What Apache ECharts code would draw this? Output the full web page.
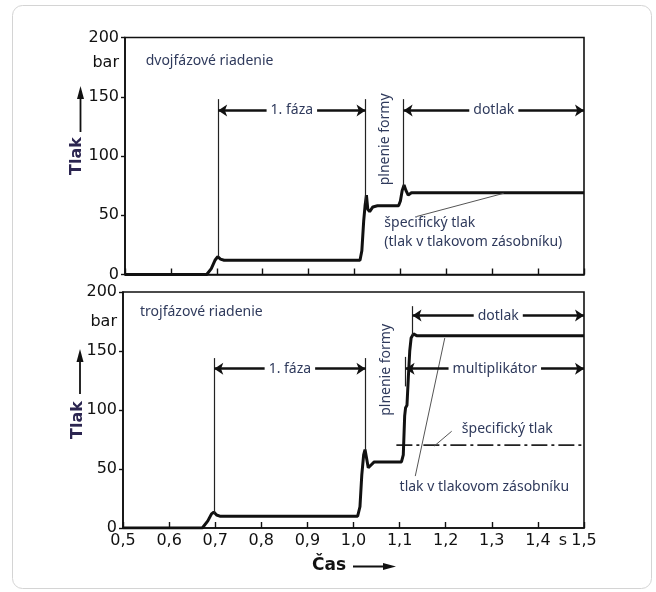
<!DOCTYPE html>
<html><head><meta charset="utf-8">
<script src="https://cdn.jsdelivr.net/npm/echarts@6/dist/echarts.min.js"></script>
<style>html,body{margin:0;padding:0;background:#fff}#c{width:656px;height:592px}</style>
</head><body><div id="c"></div>
<script>
// ---- data (time in s, pressure in bar) ----
const topTime     = [0.5, 0.678, 0.688, 0.696, 0.702, 0.708, 0.716, 1.012, 1.016, 1.02, 1.023, 1.026, 1.029, 1.033, 1.04, 1.05, 1.096, 1.1, 1.104, 1.108, 1.112, 1.117, 1.124, 1.135, 1.5];
const topPressure = [0,   0,     5,     12,    15,    13,    12,    12,    20,    45,   58,    67,    55,    53,    57,   58,   58,    62,  71,    75.5,  71,    67,    69,    69,    69];
const botTime     = [0.5, 0.672, 0.684, 0.692, 0.697, 0.703, 0.71, 1.009, 1.014, 1.018, 1.022, 1.025, 1.028, 1.032, 1.037, 1.045, 1.104, 1.108, 1.111, 1.113, 1.116, 1.119, 1.122, 1.125, 1.13, 1.137, 1.5];
const botPressure = [0,   0,     6,     12,    13.5,  11,    10,   10,    18,    45,    62,    66.5,  60,    51,    53,    56,    56,    62,    95,    102,   104,   128,   150,   161,   164.5, 163,   163];
const specTime     = [1.093, 1.5];
const specPressure = [70.3, 70.3];
const xMin = 0.5, xMax = 1.5, xStep = 0.1;
const yMin = 0, yMax = 200, yStep = 50;

const TXT = '#2f3a5c';
const tickFont = 'DejaVu Sans';
const annFont = 'Noto Sans';
const fmtX = v => v.toFixed(1).replace('.', ',');

function xAxisCfg(gi, showLabels) {
  return {type:'value', gridIndex:gi, min:xMin, max:xMax, interval:xStep,
    axisLine:{show:true, onZero:false, lineStyle:{color:'#111', width:1.6}},
    axisTick:{show:true, inside:true, length:6, lineStyle:{color:'#111', width:1.4}},
    axisLabel:{show:showLabels, margin:5, color:'#111', fontFamily:tickFont, fontSize:16, formatter:fmtX},
    splitLine:{show:false}};
}
function yAxisCfg(gi) {
  return {type:'value', gridIndex:gi, min:yMin, max:yMax, interval:yStep,
    axisLine:{show:true, lineStyle:{color:'#111', width:1.6}},
    axisTick:{show:true, inside:false, length:4, lineStyle:{color:'#111', width:1.4}},
    axisLabel:{margin:6, color:'#111', fontFamily:tickFont, fontSize:16},
    splitLine:{show:false}};
}
function guide(x, y1, y2) {
  return [{coord:[x,y1], symbol:'none', lineStyle:{color:'#222', width:1.2, type:'solid'}, label:{show:false}},
          {coord:[x,y2], symbol:'none'}];
}
function leader(x1, y1, x2, y2) {
  return [{coord:[x1,y1], symbol:'none', lineStyle:{color:'#555', width:1, type:'solid'}, label:{show:false}},
          {coord:[x2,y2], symbol:'none'}];
}
function dim(x1, x2, y, text) {
  return [{coord:[x1,y], symbol:'arrow', symbolSize:9, lineStyle:{color:'#111', width:2.6, type:'solid'},
           label:{show:true, position:'middle', distance:0, verticalAlign:'middle', formatter:text, color:TXT,
                  fontFamily:annFont, fontSize:14, backgroundColor:'#fff', padding:[1,4]}},
          {coord:[x2,y], symbol:'arrow', symbolSize:9}];
}
function note(x, y, text, extra) {
  return Object.assign({coord:[x,y], value:0, symbol:'circle', symbolSize:0,
    label:Object.assign({show:true, position:'inside', align:'left', verticalAlign:'middle', formatter:text,
      color:TXT, fontFamily:annFont, fontSize:14}, extra || {})});
}
function curve(xs, ys) { return xs.map((x, i) => [x, ys[i]]); }

const option = {
  backgroundColor:'#fff',
  animation:false,
  grid:[
    {left:125, top:37.5, width:459, height:237, show:true, borderColor:'#111', borderWidth:1.6},
    {left:123, top:292, width:461, height:236, show:true, borderColor:'#111', borderWidth:1.6}
  ],
  xAxis:[xAxisCfg(0, false), xAxisCfg(1, true)],
  yAxis:[yAxisCfg(0), yAxisCfg(1)],
  series:[
    {type:'line', xAxisIndex:0, yAxisIndex:0, data:curve(topTime, topPressure), symbol:'none',
     lineStyle:{color:'#111', width:3}, z:3,
     markLine:{silent:true, animation:false, data:[
       guide(0.703, 15, 148), guide(1.024, 60, 148), guide(1.107, 74, 148),
       dim(0.703, 1.024, 138.5, '1. fáza'), dim(1.107, 1.5, 138.5, 'dotlak'),
       leader(1.136, 49, 1.325, 68.5)
     ]},
     markPoint:{silent:true, animation:false, data:[
       note(0.545, 180, 'dvojfázové riadenie'),
       note(1.065, 43.5, 'špecifický tlak'),
       note(1.065, 27, '(tlak v tlakovom zásobníku)'),
       note(1.066, 114, 'plnenie formy', {rotate:90, align:'center'})
     ]}
    },
    {type:'line', xAxisIndex:1, yAxisIndex:1, data:curve(botTime, botPressure), symbol:'none',
     lineStyle:{color:'#111', width:3}, z:3,
     markLine:{silent:true, animation:false, data:[
       guide(0.698, 12, 144), guide(1.026, 66, 144), guide(1.113, 120, 145), guide(1.128, 163, 188),
       leader(1.134, 44, 1.198, 161), leader(1.175, 69.4, 1.213, 82),
       dim(0.698, 1.026, 135, '1. fáza'), dim(1.113, 1.5, 135, 'multiplikátor'), dim(1.128, 1.5, 180, 'dotlak')
     ]},
     markPoint:{silent:true, animation:false, data:[
       note(0.537, 183, 'trojfázové riadenie'),
       note(1.235, 84, 'špecifický tlak'),
       note(1.1, 35, 'tlak v tlakovom zásobníku'),
       note(1.071, 134, 'plnenie formy', {rotate:90, align:'center'})
     ]}
    },
    {type:'line', xAxisIndex:1, yAxisIndex:1, data:curve(specTime, specPressure), symbol:'none',
     lineStyle:{color:'#222', width:1.8, type:[16,4,3,4]}, z:2}
  ],
  graphic:[
    {type:'rect', shape:{x:12.5, y:5.5, width:639, height:583, r:10}, style:{fill:'none', stroke:'#d4d4d4', lineWidth:1}, silent:true},
    {type:'text', x:119, y:63, style:{text:'bar', fill:'#111', font:'16px "DejaVu Sans"', textAlign:'right', textVerticalAlign:'middle'}},
    {type:'text', x:117, y:322, style:{text:'bar', fill:'#111', font:'16px "DejaVu Sans"', textAlign:'right', textVerticalAlign:'middle'}},
    {type:'text', x:563, y:541, style:{text:'s', fill:'#111', font:'16px "DejaVu Sans"', textAlign:'center', textVerticalAlign:'middle'}},
    {type:'text', x:77, y:156, rotation:Math.PI/2, style:{text:'Tlak', fill:'#2b2550', font:'bold 16px "DejaVu Sans"', textAlign:'center', textVerticalAlign:'middle'}},
    {type:'line', shape:{x1:80.5, y1:132, x2:80.5, y2:95}, style:{stroke:'#111', lineWidth:1.8}},
    {type:'polygon', shape:{points:[[80.5,86],[77,99],[84,99]]}, style:{fill:'#111'}},
    {type:'text', x:78, y:420, rotation:Math.PI/2, style:{text:'Tlak', fill:'#2b2550', font:'bold 16px "DejaVu Sans"', textAlign:'center', textVerticalAlign:'middle'}},
    {type:'line', shape:{x1:80, y1:394, x2:80, y2:358}, style:{stroke:'#111', lineWidth:1.8}},
    {type:'polygon', shape:{points:[[80,349],[76.5,362],[83.5,362]]}, style:{fill:'#111'}},
    {type:'text', x:329, y:566, style:{text:'Čas', fill:'#111', font:'bold 17px "DejaVu Sans"', textAlign:'center', textVerticalAlign:'middle'}},
    {type:'line', shape:{x1:353, y1:566.5, x2:386, y2:566.5}, style:{stroke:'#111', lineWidth:1.8}},
    {type:'polygon', shape:{points:[[396,566.5],[383,563],[383,570]]}, style:{fill:'#111'}}
  ]
};
const chart = echarts.init(document.getElementById('c'));
chart.setOption(option);
</script>
</body></html>
